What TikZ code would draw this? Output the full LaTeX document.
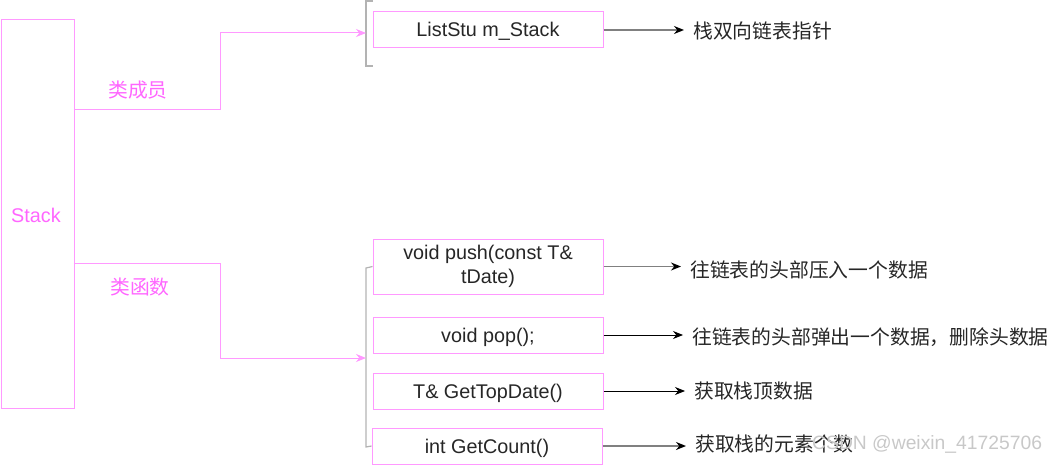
\documentclass[tikz,border=0pt]{standalone}
\usepackage{fontspec}
\setmainfont{Liberation Sans}
\newfontfamily\cjk{Noto Sans CJK SC}
\usetikzlibrary{arrows.meta}
\definecolor{pinkline}{HTML}{FF99FF}
\definecolor{pinktext}{HTML}{FF66FF}
\definecolor{brgray}{HTML}{B3B3B3}
\definecolor{arrgray}{HTML}{808080}
\definecolor{wmgray}{HTML}{C8C8C8}
\begin{document}
\begin{tikzpicture}[x=1pt,y=-1pt,
  every node/.style={font=\fontsize{19.8}{24.5}\selectfont},
  box/.style={draw=pinkline,line width=1pt,minimum width=230pt,inner sep=0pt,align=center,text=black!85},
  onebox/.style={box,minimum height=36pt,text height=14pt,text depth=0pt},
  plabel/.style={text=pinktext,font=\cjk\fontsize{19.8}{24}\selectfont},
  rlabel/.style={anchor=west,inner xsep=9pt,inner ysep=0pt,text=black!85,font=\cjk\fontsize{19.8}{24}\selectfont},
  plink/.style={draw=pinkline,line width=1pt,-{Stealth[length=10pt,width=8pt,fill=pinkline]}},
  garrow/.style={draw=arrgray,line width=1.8pt,-{Stealth[length=10pt,width=8pt,fill=black,color=black]}},
  barrow/.style={draw=black,line width=1pt,-{Stealth[length=10pt,width=8pt]}},
  bracket/.style={draw=brgray,line width=1.2pt}]
\useasboundingbox (0,0) rectangle (1059,465);
% Stack
\node[draw=pinkline,line width=1pt,minimum width=73pt,minimum height=389pt,anchor=north west,inner sep=0pt] (stack) at (0.5,19) {};
\node[text=pinktext,text height=14pt,text depth=0pt] (stacklabel) at (36,215) {Stack};
% boxes
\node[onebox] (ls) at (488,30) {ListStu m\_Stack};
\node[box,minimum height=55pt] (push) at (488,266.5) {void push(const T\&\\tDate)};
\node[onebox] (pop) at (488,335) {void pop();};
\node[onebox] (top) at (488,391) {T\& GetTopDate()};
\node[onebox] (cnt) at (487,446) {int GetCount()};
% brackets
\coordinate (b1) at (366,33);
\coordinate (b2) at (366,358);
\draw[bracket] (373,1) -- (366,1) -- (366,66) -- (373,66);
\draw[bracket] (push.west) -- (366,268) -- (366,447) -- (cnt.west);
% pink connectors
\coordinate (s1) at (73.5,110);
\coordinate (s2) at (73.5,263);
\draw[plink] (s1) -- (220,110) -- (220,33) -- (b1);
\draw[plink] (s2) -- (220,263) -- (220,358) -- (b2);
\node[plabel] (lm) at (138,90) {类成员};
\node[plabel] (lf) at (140,287) {类函数};
% right labels
\node[rlabel] (t1) at (684,31) {栈双向链表指针};
\node[rlabel] (t2) at (681,270) {往链表的头部压入一个数据};
\node[rlabel] (t3) at (683,337) {往链表的头部弹出一个数据，删除头数据};
\node[rlabel] (t4) at (685,391) {获取栈顶数据};
\node[rlabel] (t5) at (686,444) {获取栈的元素个数};
\draw[garrow] (ls.east) -- (ls.east -| t1.west);
\draw[garrow] (push.east) -- (push.east -| t2.west);
\draw[barrow] (pop.east) -- (pop.east -| t3.west);
\draw[barrow] (top.east) -- (top.east -| t4.west);
\draw[garrow] (cnt.east) -- (cnt.east -| t5.west);
% watermark
\node[text=wmgray,anchor=west,inner sep=0pt,font=\fontsize{19.3}{24}\selectfont] (wm) at (812,444) {CSDN @weixin\_41725706};
\end{tikzpicture}
\end{document}
